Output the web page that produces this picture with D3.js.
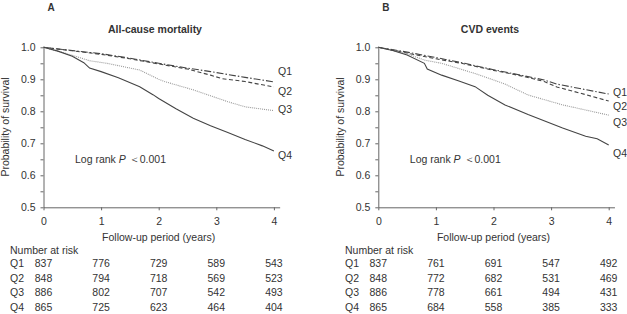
<!DOCTYPE html>
<html>
<head>
<meta charset="utf-8">
<script src="https://cdn.jsdelivr.net/npm/d3@7"></script>
<style>
body { margin: 0; background: #fff; }
svg text { font-family: "Liberation Sans", Arial, sans-serif; fill: #333; }
</style>
</head>
<body>
<div class="container"></div>
<script>
// survival curves: [years, probability]
var mortQ1 = [[0,1],[0.5,0.99],[1,0.98],[1.5,0.966],[2,0.95],[2.5,0.935],[2.9,0.924],[3.5,0.906],[4,0.892]];
var mortQ2 = [[0,1],[0.5,0.989],[1,0.978],[1.5,0.964],[2,0.948],[2.5,0.932],[2.9,0.913],[3.1,0.902],[3.5,0.893],[4,0.876]];
var mortQ3 = [[0,1],[0.25,0.988],[0.5,0.975],[0.8,0.958],[1.1,0.95],[1.67,0.929],[2,0.9],[2.1,0.893],[2.6,0.867],[3.2,0.83],[3.5,0.814],[4,0.802]];
var mortQ4 = [[0,1],[0.25,0.988],[0.5,0.972],[0.7,0.952],[0.8,0.935],[1,0.924],[1.3,0.905],[1.67,0.877],[1.9,0.852],[2,0.84],[2.3,0.808],[2.6,0.778],[2.9,0.755],[3.2,0.734],[3.5,0.712],[3.8,0.692],[4,0.676]];

var cvdQ1 = [[0,1],[0.5,0.985],[1,0.968],[1.5,0.95],[2,0.93],[2.5,0.912],[2.88,0.898],[3.1,0.885],[3.5,0.871],[4,0.854]];
var cvdQ2 = [[0,1],[0.5,0.982],[1,0.964],[1.5,0.948],[2,0.928],[2.5,0.91],[2.88,0.893],[3.1,0.876],[3.5,0.857],[4,0.832]];
var cvdQ3 = [[0,1],[0.5,0.98],[0.8,0.96],[1.1,0.95],[1.68,0.918],[2,0.898],[2.2,0.885],[2.6,0.851],[3.2,0.82],[4,0.788]];
var cvdQ4 = [[0,1],[0.25,0.99],[0.5,0.976],[0.8,0.95],[0.85,0.932],[1.1,0.913],[1.4,0.895],[1.68,0.877],[1.9,0.85],[2.2,0.82],[2.6,0.79],[3.2,0.748],[3.6,0.722],[3.8,0.714],[4,0.695]];

var groups = ["Q1", "Q2", "Q3", "Q4"];
var yearTicks = [0, 1, 2, 3, 4];
var probTicks = [0.5, 0.6, 0.7, 0.8, 0.9, 1.0];

var riskMort = [[837,776,729,589,543],[848,794,718,569,523],[886,802,707,542,493],[865,725,623,464,404]];
var riskCvd = [[837,761,691,547,492],[848,772,682,531,469],[886,778,661,494,431],[865,684,558,385,333]];

var lineStyles = {
	Q1: {dash: "7,2,1.5,2", color: "#444"},
	Q2: {dash: "4,2.5", color: "#444"},
	Q3: {dash: "1,1", color: "#999"},
	Q4: {dash: null, color: "#444"}
};

var svg = d3.select(".container").append("svg")
	.attr("width", 627)
	.attr("height", 314);

var drawPanel = function(p){
	var x = d3.scaleLinear().domain([0, 4.1]).range([p.left, p.left + 57.6 * 4.1]);
	var y = d3.scaleLinear().domain([0.5, 1]).range([207.3, 47.3]);
	var g = svg.append("g");

	// y axis, major and minor ticks
	g.append("g")
		.attr("transform", "translate(" + p.left + ",0)")
		.call(d3.axisLeft(y).tickValues(d3.range(0.55, 1, 0.1)).tickSize(3).tickFormat(""))
		.call(function(a){ a.select(".domain").remove(); });
	g.append("g")
		.attr("class", "yaxis")
		.attr("transform", "translate(" + p.left + ",0)")
		.call(d3.axisLeft(y).tickValues(probTicks).tickSizeInner(3).tickSizeOuter(0).tickPadding(5).tickFormat(d3.format(".1f")));

	g.append("g")
		.attr("transform", "translate(0,207.3)")
		.call(d3.axisBottom(x).tickValues(yearTicks).tickSizeInner(3).tickSizeOuter(0).tickPadding(7).tickFormat(d3.format("d")));

	g.selectAll(".tick line, .domain").attr("stroke", "#666");
	g.selectAll(".tick text").attr("font-size", "10.5px").attr("fill", "#333").attr("font-family", "Liberation Sans, Arial, sans-serif");

	var line = d3.line().x(function(d){ return x(d[0]); }).y(function(d){ return y(d[1]); });

	g.selectAll("path.curve").data(p.curves).enter().append("path")
		.attr("class", "curve")
		.attr("d", function(d){ return line(d.values); })
		.attr("fill", "none")
		.attr("stroke", function(d){ return lineStyles[d.name].color; })
		.attr("stroke-width", 1.1)
		.attr("stroke-dasharray", function(d){ return lineStyles[d.name].dash; });

	g.selectAll("text.qlab").data(p.curves).enter().append("text")
		.attr("class", "qlab")
		.attr("x", p.labelX)
		.attr("y", function(d, i){ return p.labelY[i]; })
		.attr("dy", "0.35em")
		.attr("font-size", "10.5px")
		.text(function(d){ return d.name; });

	g.append("text").attr("x", p.left + 4).attr("y", 7).attr("dy", "0.35em")
		.attr("font-size", "10px").attr("font-weight", "bold").text(p.letter);
	g.append("text").attr("x", p.titleX).attr("y", 29).attr("dy", "0.35em")
		.attr("text-anchor", "middle").attr("font-size", "10.5px").attr("font-weight", "bold").text(p.title);

	g.append("text")
		.attr("transform", "translate(" + (p.left - 38) + ",127) rotate(-90)")
		.attr("text-anchor", "middle").attr("dy", "0.35em").attr("font-size", "10.5px")
		.text("Probability of survival");

	g.append("text").attr("x", x(2)).attr("y", 237).attr("dy", "0.35em")
		.attr("text-anchor", "middle").attr("font-size", "10.5px")
		.text("Follow-up period (years)");

	var lr = g.append("text").attr("x", p.left + 31.5).attr("y", 159).attr("dy", "0.35em").attr("font-size", "10.5px");
	lr.append("tspan").text("Log rank ");
	lr.append("tspan").attr("font-style", "italic").text("P");
	lr.append("tspan").text(" \uFF1C0.001");

	// number at risk table
	g.append("text").attr("x", p.tableX).attr("y", 250).attr("dy", "0.35em")
		.attr("font-size", "10.5px").text("Number at risk");
	var rows = g.selectAll("g.row").data(p.risk).enter().append("g").attr("class", "row")
		.attr("transform", function(d, i){ return "translate(0," + (263.5 + i * 14.5) + ")"; });
	rows.append("text").attr("x", p.tableX).attr("dy", "0.35em").attr("font-size", "10.5px")
		.text(function(d, i){ return groups[i]; });
	rows.selectAll("text.n").data(function(d){ return d; }).enter().append("text")
		.attr("class", "n")
		.attr("x", function(d, j){ return x(yearTicks[j]); })
		.attr("dy", "0.35em")
		.attr("text-anchor", "middle")
		.attr("font-size", "10.5px")
		.text(function(d){ return d; });
};

drawPanel({
	left: 43.5, letter: "A", title: "All-cause mortality", titleX: 155,
	labelX: 278, labelY: [71, 91, 109, 155], tableX: 10,
	curves: [{name: "Q1", values: mortQ1}, {name: "Q2", values: mortQ2}, {name: "Q3", values: mortQ3}, {name: "Q4", values: mortQ4}],
	risk: riskMort
});

drawPanel({
	left: 378.3, letter: "B", title: "CVD events", titleX: 490,
	labelX: 613, labelY: [92, 106, 122, 153], tableX: 345,
	curves: [{name: "Q1", values: cvdQ1}, {name: "Q2", values: cvdQ2}, {name: "Q3", values: cvdQ3}, {name: "Q4", values: cvdQ4}],
	risk: riskCvd
});
</script>
</body>
</html>
